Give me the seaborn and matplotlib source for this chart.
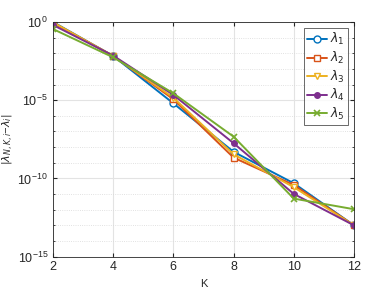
import numpy as np
import pandas as pd
import matplotlib
matplotlib.use("Agg")
import matplotlib.pyplot as plt
import matplotlib.ticker as mticker
import seaborn as sns

# Veriler (log10 hata degerleri)
K = [2, 4, 6, 8, 10, 12]
lam1 = [0.0, -2.17, -5.20, -8.30, -10.31, -13.0]
lam2 = [-0.05, -2.17, -4.94, -8.67, -10.42, -13.0]
lam3 = [-0.02, -2.17, -4.84, -8.46, -10.56, -13.0]
lam4 = [-0.19, -2.15, -4.66, -7.75, -10.99, -13.0]
lam5 = [-0.45, -2.26, -4.56, -7.33, -11.29, -11.97]

names = [r"$\lambda_1$", r"$\lambda_2$", r"$\lambda_3$", r"$\lambda_4$", r"$\lambda_5$"]
series = [lam1, lam2, lam3, lam4, lam5]
colors = ["#0072BD", "#D95319", "#EDB120", "#7E2F8E", "#77AC30"]
markers = ["o", "s", "v", "o", "x"]

sns.set_style("ticks")
plt.rcParams["font.family"] = ["Liberation Sans", "DejaVu Sans"]
plt.rcParams["mathtext.fontset"] = "dejavusans"

fig = plt.figure(figsize=(3.92, 2.89), dpi=100)
ax = fig.add_axes([0.135, 0.112, 0.768, 0.812])

for name, vals, c, m in zip(names, series, colors, markers):
    df = pd.DataFrame({"K": K, "err": 10.0 ** np.array(vals)})
    filled = (m == "o" and name == names[3])
    sns.lineplot(data=df, x="K", y="err", ax=ax, color=c, marker=m,
                 markersize=4 if filled else 5,
                 markerfacecolor=c if filled else "white",
                 markeredgecolor=c, markeredgewidth=1.2 if m == "x" else 1.0,
                 linewidth=1.4, label=name)

ax.set_yscale("log")
ax.set_xlim(2, 12)
ax.set_ylim(1e-15, 1e0)
ax.set_xticks([2, 4, 6, 8, 10, 12])
ax.yaxis.set_major_locator(mticker.FixedLocator([1e-15, 1e-10, 1e-5, 1e0]))
ax.yaxis.set_minor_locator(mticker.FixedLocator([10.0 ** e for e in range(-15, 1)]))
ax.yaxis.set_minor_formatter(mticker.NullFormatter())
ax.grid(True, which="major", color="#e3e3e3", linewidth=0.8)
ax.grid(True, which="minor", axis="y", color="#d8d8d8", linestyle=":", linewidth=0.6)
ax.set_axisbelow(True)

for s in ax.spines.values():
    s.set_color("#262626")
    s.set_linewidth(0.6)
ax.tick_params(which="both", direction="in", top=True, right=True,
               labelsize=9, color="#262626", labelcolor="#262626", length=3)
ax.tick_params(which="minor", length=1.5)

ax.set_xlabel("K", fontsize=8, color="#262626")
ax.set_ylabel(r"$|\lambda_{N,K,i}\mathregular{-}\lambda_i|$", fontsize=8,
              color="#262626", labelpad=2)

leg = ax.legend(loc="upper right", fontsize=9, frameon=True, fancybox=False,
                edgecolor="#262626", handlelength=1.6, borderpad=0.25,
                labelspacing=0.2, handletextpad=0.2, borderaxespad=0.5)
leg.get_frame().set_linewidth(0.6)

fig.savefig("out.png", dpi=100)
